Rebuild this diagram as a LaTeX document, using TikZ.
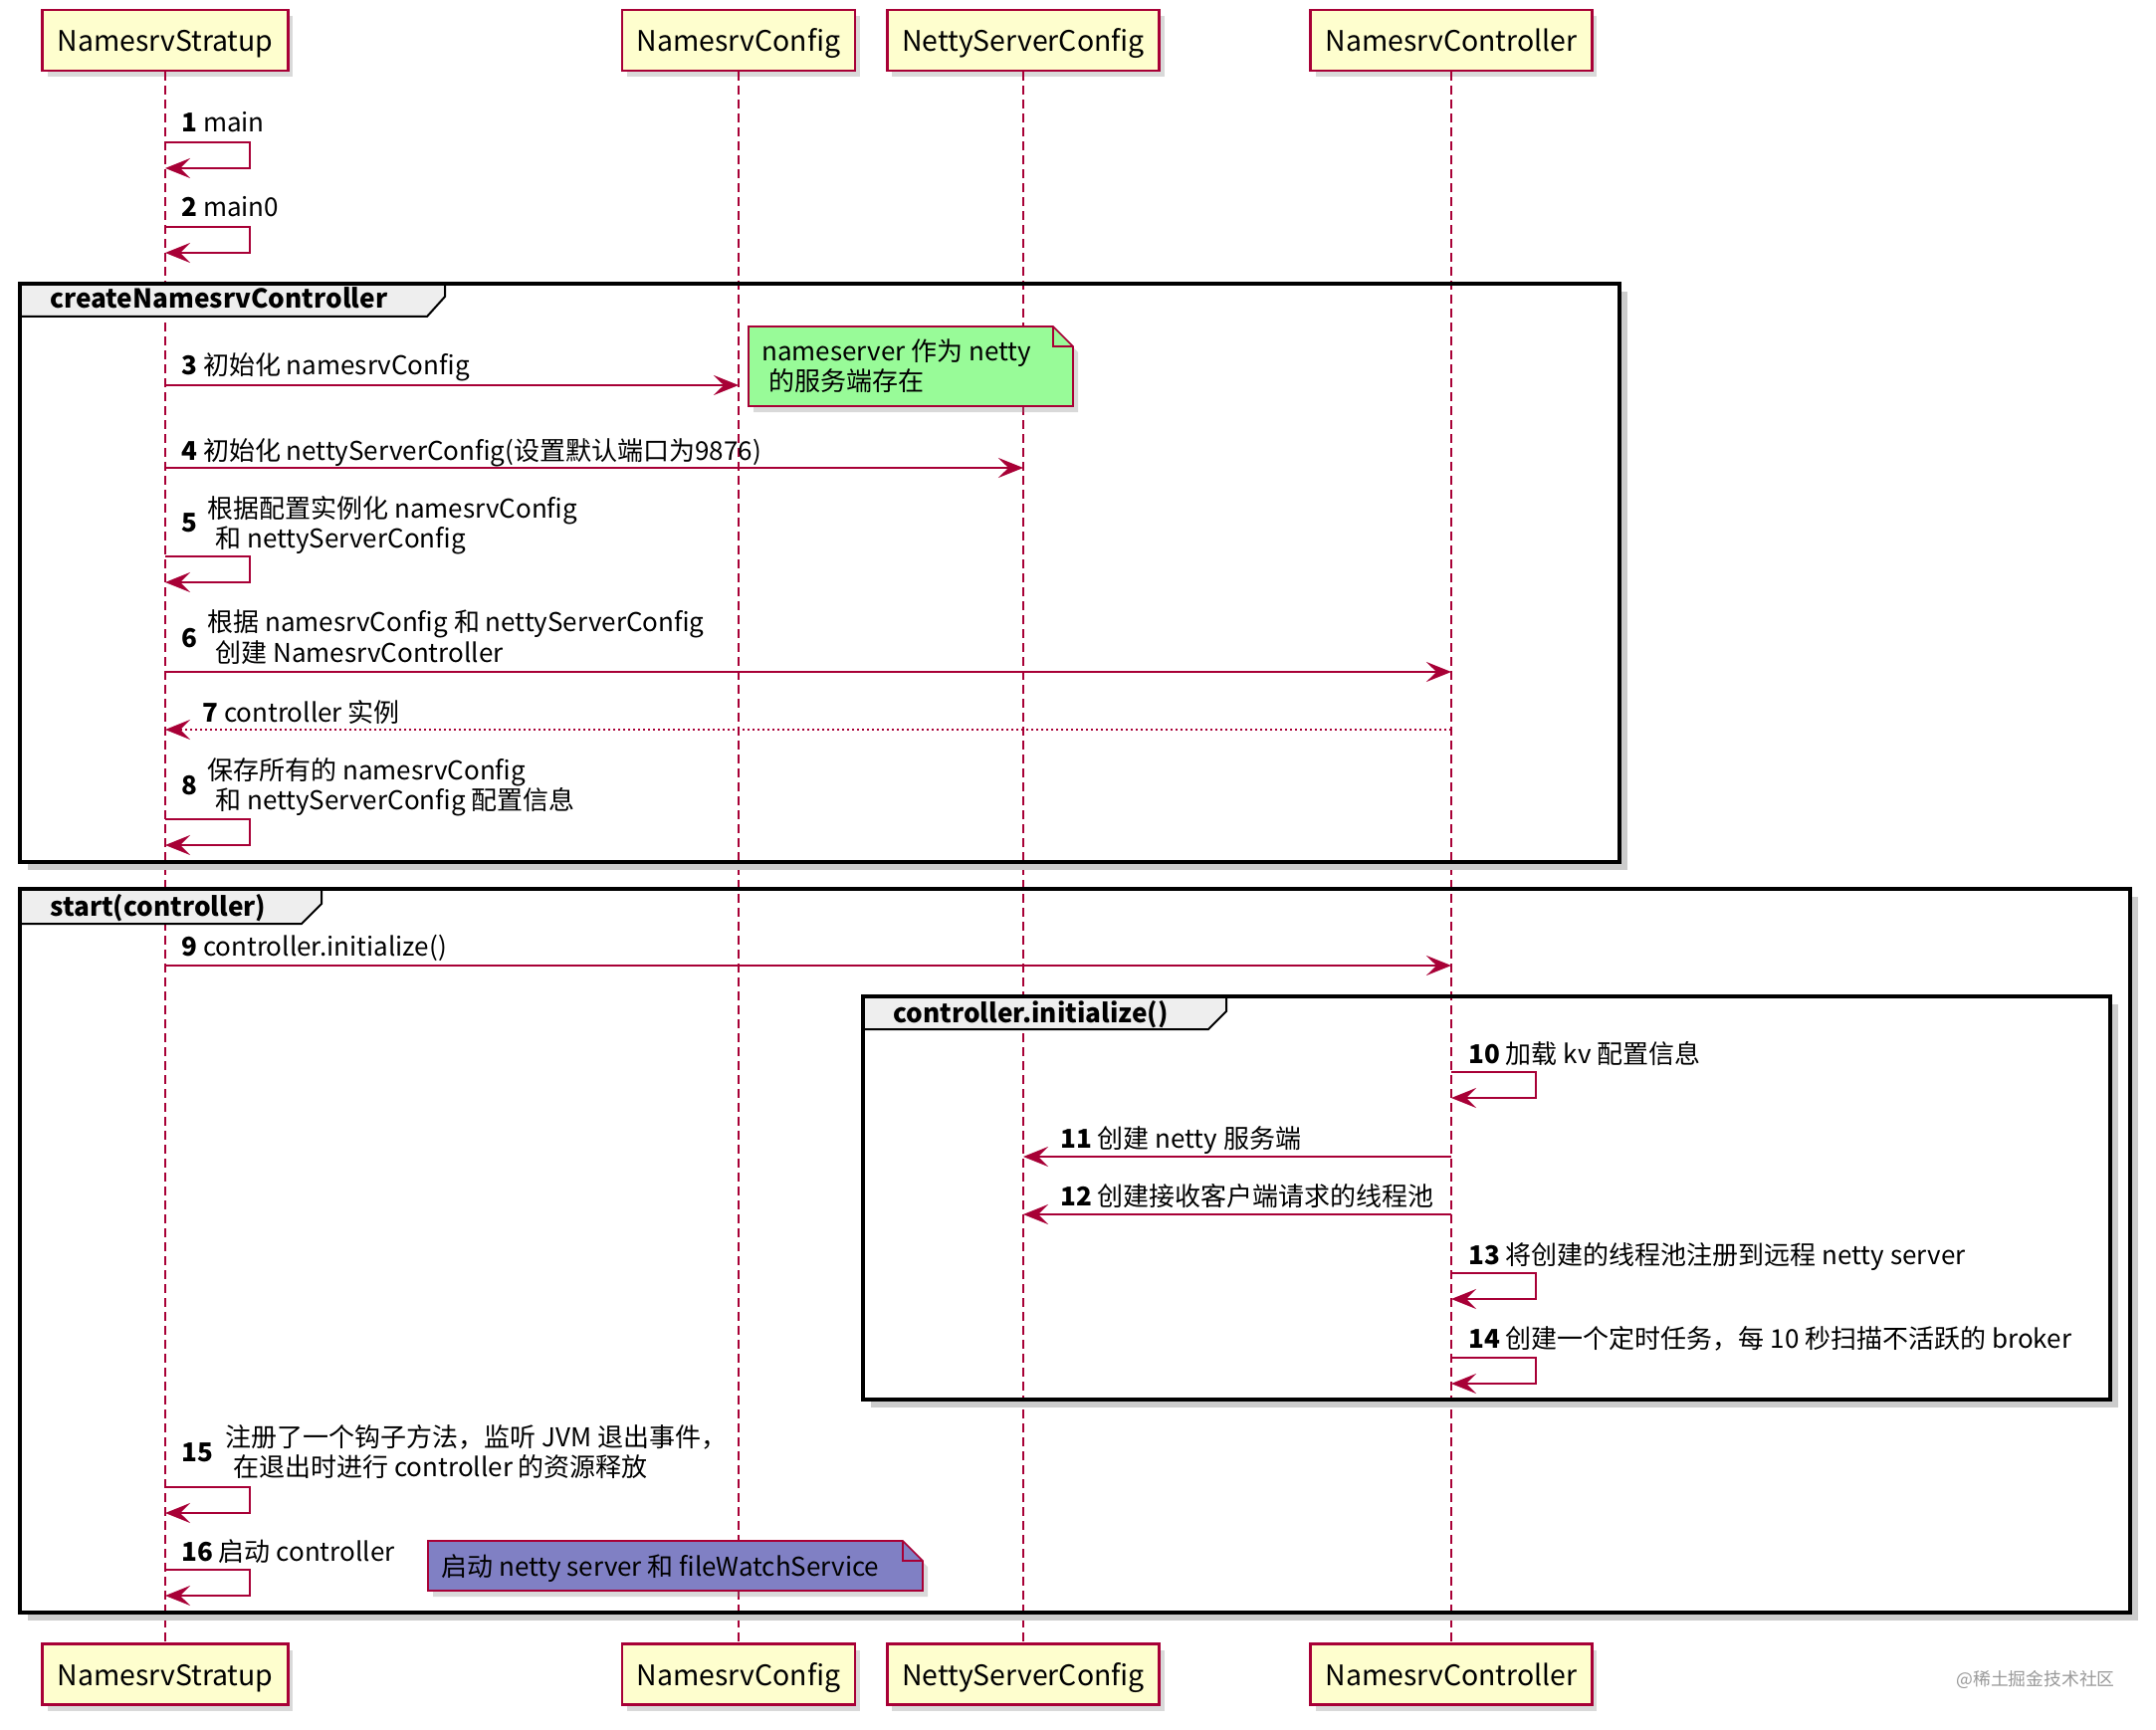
\documentclass[tikz,border=0pt]{standalone}
\usepackage{fontspec}
\setmainfont{Noto Sans CJK SC}
\usetikzlibrary{arrows.meta,shadows}

\definecolor{umlred}{HTML}{A80036}
\definecolor{umlyellow}{HTML}{FEFECE}
\definecolor{notegreen}{HTML}{98FB98}
\definecolor{noteblue}{HTML}{8080C4}
\definecolor{tabgray}{HTML}{EEEEEE}

\begin{document}
\begin{tikzpicture}[x=0.5pt, y=-0.5pt, >={Stealth[length=12.5pt, width=10pt, inset=5pt]}]
    \tikzstyle{actor}=[draw=umlred, fill=umlyellow, line width=1.2pt, minimum height=30.5pt, inner xsep=7.5pt, text height=14.5pt, text depth=3pt, font=\fontsize{14.2}{17}\selectfont, drop shadow={shadow xshift=2.5pt, shadow yshift=-3pt, opacity=0.3}]
    \tikzstyle{lifeline}=[draw=umlred, line width=0.8pt, dash pattern=on 4.5pt off 2.5pt]
    \tikzstyle{msg}=[draw=umlred, line width=1pt, ->]
    \tikzstyle{msgtxt}=[anchor=base west, inner sep=0pt, font=\fontsize{13}{15}\selectfont]
    \tikzstyle{framebox}=[draw=black, line width=2pt]
    \tikzstyle{frameshadow}=[draw=black!20, line width=3pt]
    \tikzstyle{tabshape}=[draw=black, fill=tabgray, line width=1pt]
    \tikzstyle{frametitle}=[anchor=base west, inner sep=0pt, font=\fontsize{13.1}{15}\selectfont\bfseries]
    \tikzstyle{noteshape}=[draw=umlred, line width=0.8pt, drop shadow={shadow xshift=2.5pt, shadow yshift=-3pt, opacity=0.3}]

    \useasboundingbox (0,0) rectangle (2166,1738);

    % Participants, top and bottom
    \node[actor] (stratup) at (166,40.5) {NamesrvStratup};
    \node[actor] (config) at (742,40.5) {NamesrvConfig};
    \node[actor] (netty) at (1028,40.5) {NettyServerConfig};
    \node[actor] (ctrl) at (1458,40.5) {NamesrvController};
    \node[actor] (stratupB) at (166,1682) {NamesrvStratup};
    \node[actor] (configB) at (742,1682) {NamesrvConfig};
    \node[actor] (nettyB) at (1028,1682) {NettyServerConfig};
    \node[actor] (ctrlB) at (1458,1682) {NamesrvController};

    % Lifelines
    \draw[lifeline] (stratup) -- (stratupB);
    \draw[lifeline] (config) -- (configB);
    \draw[lifeline] (netty) -- (nettyB);
    \draw[lifeline] (ctrl) -- (ctrlB);

    % Frame createNamesrvController
    \draw[frameshadow] (1632,293) -- (1632,871) -- (28,871);
    \filldraw[tabshape] (20,285) -- (447,285) -- (447,298) -- (429,318) -- (20,318) -- cycle;
    \draw[framebox] (20,285) rectangle (1627,866);
    \node[frametitle] (f1) at (50,310) {createNamesrvController};

    % Frame start(controller)
    \draw[frameshadow] (2145,901) -- (2145,1625) -- (28,1625);
    \filldraw[tabshape] (20,893) -- (323,893) -- (323,908) -- (303,928) -- (20,928) -- cycle;
    \draw[framebox] (20,893) rectangle (2140,1620);
    \node[frametitle] (f2) at (50,920) {start(controller)};

    % Frame controller.initialize()
    \draw[frameshadow] (2125,1009) -- (2125,1411) -- (875,1411);
    \filldraw[tabshape] (867,1001) -- (1232,1001) -- (1232,1016) -- (1214,1034) -- (867,1034) -- cycle;
    \draw[framebox] (867,1001) rectangle (2120,1406);
    \node[frametitle] (f3) at (897,1027) {controller.initialize()};

    % Self messages
    \foreach \y in {143,228,559,823,1494,1577}
        \draw[msg] (stratup |- 0,\y) -- ++(85,0) -- ++(0,26) -- ++(-85,0);
    \foreach \y in {1077,1279,1364}
        \draw[msg] (ctrl |- 0,\y) -- ++(85,0) -- ++(0,26) -- ++(-85,0);

    % Messages between participants
    \draw[msg] (stratup |- 0,387) -- (config |- 0,387);
    \draw[msg] (stratup |- 0,470) -- (netty |- 0,470);
    \draw[msg] (stratup |- 0,675) -- (ctrl |- 0,675);
    \draw[msg, dash pattern=on 1pt off 1.5pt] (ctrl |- 0,733) -- (stratup |- 0,733);
    \draw[msg] (stratup |- 0,970) -- (ctrl |- 0,970);
    \draw[msg] (ctrl |- 0,1162) -- (netty |- 0,1162);
    \draw[msg] (ctrl |- 0,1220) -- (netty |- 0,1220);

    % Message texts
    \node[msgtxt] (m1) at (182,133) {\textbf{1} main};
    \node[msgtxt] (m2) at (182,218) {\textbf{2} main0};
    \node[msgtxt] (m3) at (182,377) {\textbf{3} 初始化 namesrvConfig};
    \node[msgtxt] (m4) at (182,462) {\textbf{4} 初始化 nettyServerConfig(设置默认端口为9876)};
    \node[msgtxt] (m5) at (182,534) {\textbf{5}};
    \node[msgtxt] (m5a) at (208,520) {根据配置实例化 namesrvConfig};
    \node[msgtxt] (m5b) at (216,550) {和 nettyServerConfig};
    \node[msgtxt] (m6) at (182,650) {\textbf{6}};
    \node[msgtxt] (m6a) at (208,634) {根据 namesrvConfig 和 nettyServerConfig};
    \node[msgtxt] (m6b) at (216,665) {创建 NamesrvController};
    \node[msgtxt] (m7) at (203,725) {\textbf{7} controller 实例};
    \node[msgtxt] (m8) at (182,798) {\textbf{8}};
    \node[msgtxt] (m8a) at (208,783) {保存所有的 namesrvConfig};
    \node[msgtxt] (m8b) at (216,813) {和 nettyServerConfig 配置信息};
    \node[msgtxt] (m9) at (182,960) {\textbf{9} controller.initialize()};
    \node[msgtxt] (m10) at (1475,1068) {\textbf{10} 加载 kv 配置信息};
    \node[msgtxt] (m11) at (1065,1153) {\textbf{11} 创建 netty 服务端};
    \node[msgtxt] (m12) at (1065,1211) {\textbf{12} 创建接收客户端请求的线程池};
    \node[msgtxt] (m13) at (1475,1270) {\textbf{13} 将创建的线程池注册到远程 netty server};
    \node[msgtxt] (m14) at (1475,1354) {\textbf{14} 创建一个定时任务，每 10 秒扫描不活跃的 broker};
    \node[msgtxt] (m15) at (182,1468) {\textbf{15}};
    \node[msgtxt] (m15a) at (226,1453) {注册了一个钩子方法，监听 JVM 退出事件，};
    \node[msgtxt] (m15b) at (234,1483) {在退出时进行 controller 的资源释放};
    \node[msgtxt] (m16) at (182,1568) {\textbf{16} 启动 controller};

    % Notes
    \filldraw[noteshape, fill=notegreen] (752,328) -- (1058,328) -- (1078,348) -- (1078,408) -- (752,408) -- cycle;
    \draw[umlred, line width=0.8pt] (1058,328) -- (1058,348) -- (1078,348);
    \node[msgtxt] (n1a) at (765,363) {nameserver 作为 netty};
    \node[msgtxt] (n1b) at (772,393) {的服务端存在};
    \filldraw[noteshape, fill=noteblue] (430,1548) -- (907,1548) -- (927,1568) -- (927,1598) -- (430,1598) -- cycle;
    \draw[umlred, line width=0.8pt] (907,1548) -- (907,1568) -- (927,1568);
    \node[msgtxt] (n2) at (443,1583) {启动 netty server 和 fileWatchService};

    % Watermark
    \node[msgtxt, text=black!40, font=\fontsize{8.9}{10}\selectfont] (wm) at (1965,1693) {@稀土掘金技术社区};
\end{tikzpicture}
\end{document}
